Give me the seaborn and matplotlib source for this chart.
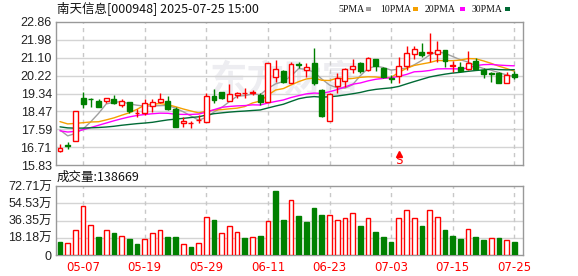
import numpy as np
import pandas as pd
import matplotlib
matplotlib.use("Agg")
import matplotlib.pyplot as plt
from matplotlib.patches import Rectangle
import seaborn as sns

# ---------------- data ----------------
title_text = "南天信息[000948] 2025-07-25 15:00"
volume_title = "成交量:138669"

# closes of the 29 sessions before the first visible candle (needed for the moving averages)
history_close = [18.3, 18.9, 18.7, 18.6, 18.3, 18.4, 17.8, 17.5, 17.3, 17.2,
                 17.98, 17.87, 17.23, 16.86, 16.50, 16.91, 16.68, 16.99, 16.70, 16.98,
                 17.9, 18.2, 18.5, 18.7, 18.6, 18.2, 17.9, 17.7, 17.3]

opens = [16.52, 16.80, 17.01, 19.13, 19.10, 18.98, 18.96, 19.09, 18.77, 18.91,
         18.37, 18.38, 18.73, 18.91, 18.96, 18.57, 17.89, 17.88, 18.04, 17.94,
         19.22, 19.42, 18.98, 19.27, 19.35, 19.36, 19.26, 18.94, 20.17, 20.46,
         19.87, 20.78, 20.51, 20.82, 19.52, 18.02, 19.71, 19.97, 20.53, 20.85,
         20.50, 21.02, 20.58, 20.11, 20.22, 20.71, 21.26, 21.38, 21.31, 21.26,
         21.47, 20.70, 20.63, 20.54, 20.94, 20.50, 20.34, 20.33, 19.87, 20.28]
highs = [16.87, 16.99, 18.47, 19.40, 19.13, 19.09, 19.12, 19.26, 19.08, 18.92,
         18.57, 19.06, 19.06, 19.36, 19.22, 18.67, 18.18, 18.00, 18.29, 19.36,
         19.55, 19.43, 19.80, 19.43, 19.60, 19.52, 19.36, 20.83, 20.99, 20.50,
         20.90, 20.90, 20.85, 21.58, 19.55, 19.35, 20.36, 20.61, 21.02, 20.87,
         21.12, 21.03, 20.66, 20.27, 21.15, 21.67, 21.67, 21.80, 22.30, 21.91,
         21.48, 20.96, 20.87, 21.43, 21.07, 20.58, 20.41, 20.41, 20.38, 20.45]
lows = [16.50, 16.63, 17.01, 18.62, 18.67, 18.67, 18.87, 18.82, 18.70, 18.41,
        18.21, 18.29, 18.44, 18.87, 18.54, 17.69, 17.72, 17.64, 17.89, 17.94,
        18.87, 19.10, 18.98, 19.11, 19.11, 19.27, 18.78, 18.94, 19.92, 19.87,
        19.85, 20.58, 20.17, 19.76, 18.18, 18.00, 19.39, 19.68, 20.33, 20.36,
        20.45, 20.46, 20.09, 19.86, 19.87, 20.50, 21.02, 21.15, 20.90, 20.90,
        20.66, 20.41, 20.41, 20.49, 20.50, 20.12, 19.92, 19.84, 19.84, 20.05]
closes = [16.68, 16.78, 18.47, 18.83, 19.06, 18.70, 19.11, 18.88, 18.99, 18.50,
          18.38, 18.87, 18.94, 19.06, 18.57, 17.69, 18.00, 17.90, 18.05, 19.22,
          19.03, 19.11, 19.32, 19.39, 19.36, 19.43, 18.94, 20.83, 20.53, 19.92,
          20.79, 20.76, 20.63, 19.85, 18.24, 19.32, 20.09, 20.53, 20.69, 20.45,
          21.07, 20.69, 20.17, 20.07, 20.69, 21.31, 21.51, 21.25, 21.39, 21.47,
          20.95, 20.72, 20.45, 20.82, 20.55, 20.29, 20.31, 19.87, 20.25, 20.17]
# volume in 万 lots
volumes = [14.0, 12.6, 26.0, 51.6, 31.6, 19.0, 26.0, 23.2, 19.7, 16.9,
           11.6, 16.9, 23.2, 26.0, 19.0, 19.0, 11.2, 8.4, 12.6, 39.7,
           36.9, 23.2, 30.2, 24.2, 17.9, 19.0, 20.0, 35.8, 67.4, 36.9,
           58.0, 41.1, 34.8, 49.5, 42.1, 42.1, 36.5, 38.6, 43.9, 30.6,
           38.6, 24.2, 19.0, 13.7, 38.6, 47.1, 38.6, 30.6, 47.1, 39.7,
           26.3, 20.0, 16.9, 27.1, 19.0, 15.8, 17.6, 17.9, 15.8, 13.87]

date_ticks = [3, 11, 19, 27, 35, 43, 51, 59]
date_labels = ["05-07", "05-19", "05-29", "06-11", "06-23", "07-03", "07-15", "07-25"]

price_ticks = [15.83, 16.71, 17.59, 18.47, 19.34, 20.22, 21.10, 21.98, 22.86]
volume_ticks = [0, 18.18, 36.35, 54.53, 72.71]
volume_tick_labels = ["0", "18.18万", "36.35万", "54.53万", "72.71万"]

ma_windows = [5, 10, 20, 30]
ma_names = ["5PMA", "10PMA", "20PMA", "30PMA"]
signal_index = 44
signal_text = "S"

# ---------------- style ----------------
RED = "#ff0000"
GREEN = "#008000"
MA_COLORS = {"5PMA": "#a0a0a0", "10PMA": "#f5a000", "20PMA": "#ff00ff", "30PMA": "#006a35"}
FRAME = "#999999"
GRID = "#d4d4d4"
VGRID = "#c8c8c8"

sns.set_theme(style="white")
plt.rcParams["font.family"] = ["Liberation Sans", "Noto Sans CJK SC", "DejaVu Sans"]

W, H = 578, 276
fig = plt.figure(figsize=(W / 100, H / 100), dpi=100)
fig.patch.set_facecolor("white")

left, right = 56, 522.7
ax = fig.add_axes([left / W, 1 - 165.3 / H, (right - left) / W, (165.3 - 21.7) / H])
axv = fig.add_axes([left / W, 1 - 255 / H, (right - left) / W, (255 - 186) / H])

n = len(closes)
x = np.arange(n)
o = np.array(opens); c = np.array(closes); hi = np.array(highs); lo = np.array(lows)
up = c >= o

for a in (ax, axv):
    a.set_facecolor("white")
    a.set_xlim(-0.52, n - 1 + 1.09)
    for s in a.spines.values():
        s.set_color(FRAME)
        s.set_linewidth(1.0)
    for t in date_ticks:
        a.axvline(t, color=VGRID, lw=1.0, ls=(0, (3, 3)), zorder=0.5)
    a.tick_params(axis="both", length=0, pad=3)

# ---- price panel ----
ax.set_ylim(price_ticks[0], price_ticks[-1])
ax.set_yticks(price_ticks)
ax.set_yticklabels([f"{v:.2f}" for v in price_ticks], fontsize=9, color="#222222")
for v in price_ticks[1:-1]:
    ax.axhline(v, color=GRID, lw=1.0, zorder=0.4)

# watermark
ax.text(0.49, 0.585, "东方财富", transform=ax.transAxes, fontsize=27, fontweight="bold",
        color="#ededf1", ha="center", va="center", family=["Noto Sans CJK SC"], zorder=0.3)

# moving averages (computed from history + visible closes)
all_close = pd.Series(history_close + closes)
rows = []
for w, name in zip(ma_windows, ma_names):
    ma = all_close.rolling(w).mean().iloc[len(history_close):].to_numpy()
    rows.append(pd.DataFrame({"x": x, "value": ma, "ma": name}))
ma_df = pd.concat(rows, ignore_index=True)
sns.lineplot(data=ma_df, x="x", y="value", hue="ma", palette=MA_COLORS,
             hue_order=ma_names, linewidth=1.0, legend=False, ax=ax, zorder=3)
ax.set_xlabel("")
ax.set_ylabel("")
ax.set_xticks([])

# candles
body_w = 0.64
for i in range(n):
    col = RED if up[i] else GREEN
    ax.vlines(x[i], lo[i], hi[i], color=col, lw=1.0, zorder=4)
    bottom = min(o[i], c[i])
    height = max(abs(c[i] - o[i]), 0.015)
    ax.add_patch(Rectangle((x[i] - body_w / 2, bottom), body_w, height,
                           facecolor="white" if up[i] else GREEN,
                           edgecolor=col, lw=1.0, zorder=5))

# signal marker
ax.plot([signal_index], [16.39], marker="^", color=RED, markersize=4.5, zorder=6,
        clip_on=False)
ax.text(signal_index, 16.06, signal_text, color=RED, fontsize=9, ha="center", va="center",
        family=["DejaVu Sans Mono"], zorder=6)

# ---- volume panel ----
prev_close = np.array([history_close[-1]] + closes[:-1])
vol_up = c >= prev_close
vol = np.array(volumes)
axv.set_ylim(0, volume_ticks[-1])
axv.set_yticks(volume_ticks)
axv.set_yticklabels(volume_tick_labels, fontsize=9, color="#222222")
for v in volume_ticks[1:-1]:
    axv.axhline(v, color=GRID, lw=1.0, zorder=0.4)
bar_w = 0.62
axv.bar(x[vol_up], vol[vol_up], width=bar_w, facecolor="white", edgecolor=RED, lw=1.0, zorder=3)
axv.bar(x[~vol_up], vol[~vol_up], width=bar_w, facecolor=GREEN, edgecolor=GREEN, lw=1.0, zorder=3)
axv.set_xticks(date_ticks)
axv.set_xticklabels(date_labels, fontsize=8.5, color=RED, family=["DejaVu Sans"])
axv.tick_params(axis="x", pad=4)
axv.set_xlabel("")
axv.set_ylabel("")

# ---- texts ----
fig.text(57 / W, 1 - 8 / H, title_text, fontsize=9, color="#111111", ha="left", va="center",
         family=["Noto Sans CJK SC", "DejaVu Sans"])
fig.text(57 / W, 1 - 177 / H, volume_title, fontsize=9, color="#111111", ha="left", va="center",
         family=["Noto Sans CJK SC", "DejaVu Sans"])

# legend labels with colour squares
legend_pos = [(338, 366), (380, 413), (425, 460), (472, 505)]
for (tx, sx), name in zip(legend_pos, ma_names):
    fig.text(tx / W, 1 - 9 / H, name, fontsize=7, color="#111111", ha="left", va="center",
             family=["Liberation Serif"])
    fig.patches.append(Rectangle((sx / W, 1 - 11 / H), 5 / W, 4 / H, transform=fig.transFigure,
                                 facecolor=MA_COLORS[name], edgecolor="none"))

fig.savefig("out.png", dpi=100, facecolor="white")
